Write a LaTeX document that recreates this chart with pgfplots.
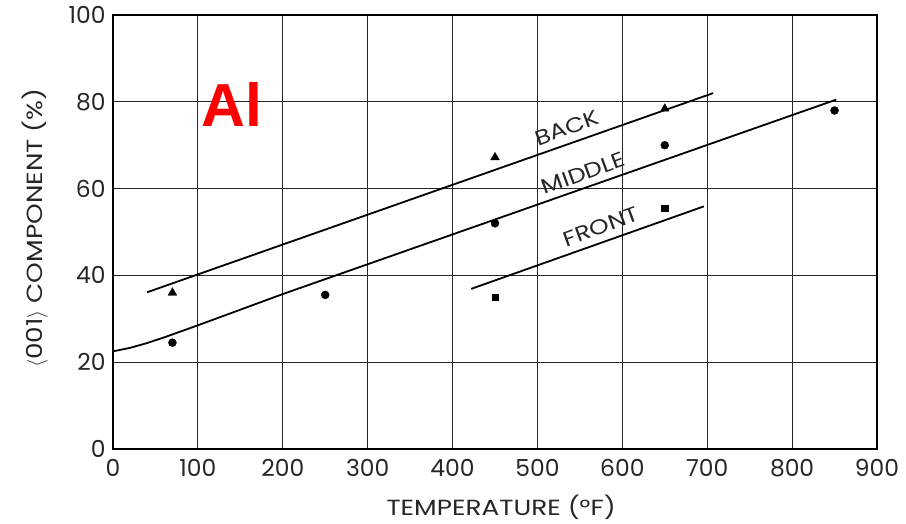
\documentclass[border=0pt]{standalone}
\usepackage{pgfplots}
\pgfplotsset{compat=1.18}
\usepackage{fontspec}
\setmainfont{Poppins}
\newfontfamily\widefont{Poppins}[FakeStretch=1.2]
\newfontfamily\alfont{Liberation Sans}
\begin{document}
\begin{tikzpicture}
\path[use as bounding box] (-113bp,-75bp) rectangle (793bp,449bp);
\begin{axis}[
  at={(0,0)}, anchor=south west,
  scale only axis, width=764bp, height=434bp,
  xmin=0, xmax=900, ymin=0, ymax=100,
  xtick={0,100,...,900}, ytick={0,20,...,100},
  grid=major,
  grid style={black!85, line width=1.1bp},
  axis line style={black, line width=1.8bp},
  tick style={draw=none},
  /pgf/number format/assume math mode=true,
  ticklabel style={font=\fontsize{23.5}{27}\selectfont, text=black!85},
  xticklabel style={yshift=-7bp},
  yticklabel style={xshift=-4bp},
  xlabel={TEMPERATURE (°F)},
  ylabel={$\langle$001$\rangle$ COMPONENT (\%)},
  label style={font=\widefont\fontsize{22}{26}\selectfont, text=black!85},
  xlabel style={at={(axis description cs:0.508,0)}, anchor=center, yshift=-58bp},
  ylabel style={at={(axis description cs:-0.102,0.509)}, anchor=center},
]
% fitted lines
\addplot[black, line width=1.8bp, line join=round] coordinates {(40,36.1) (707,82.0)};
\addplot[black, line width=1.8bp, line join=round] coordinates {(0,22.5) (20,23.3) (40,24.4) (60,25.7) (80,27.1) (100,28.5) (125,30.3) (150,32.1) (175,33.9) (200,35.7) (852,80.5)};
\addplot[black, line width=1.8bp, line join=round] coordinates {(422,36.9) (696,55.9)};
% data points
\addplot[only marks, mark=triangle*, mark size=5bp, black] coordinates {(70,36) (450,67.2) (650,78.4)};
\addplot[only marks, mark=*, mark size=4bp, black] coordinates {(70,24.5) (250,35.5) (450,52) (650,70) (850,78)};
\addplot[only marks, mark=square*, mark size=3.2bp, black] coordinates {(450,35) (650,55.5)};
% labels
\node[rotate=20, inner sep=0pt, font=\widefont\fontsize{21}{24}\selectfont, text=black!85] at (axis cs:535,74.0) {BACK};
\node[rotate=20, inner sep=0pt, font=\widefont\fontsize{21}{24}\selectfont, text=black!85] at (axis cs:554,63.6) {MIDDLE};
\node[rotate=20, inner sep=0pt, font=\widefont\fontsize{21}{24}\selectfont, text=black!85] at (axis cs:575,51.2) {FRONT};
\node[font=\alfont\bfseries\fontsize{61}{61}\selectfont, text=red, inner sep=0pt] at (axis cs:140,79.3) {Al};
\end{axis}
\end{tikzpicture}
\end{document}
